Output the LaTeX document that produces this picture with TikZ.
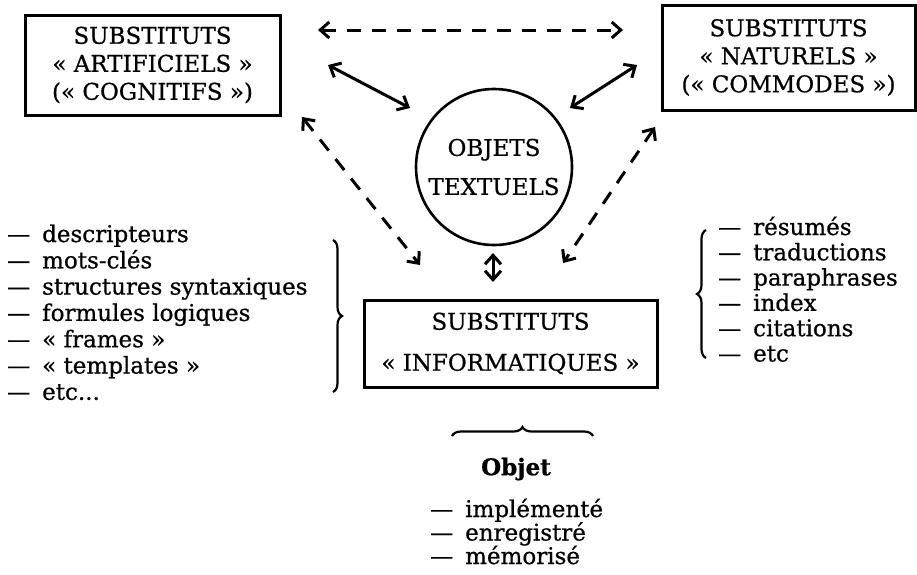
\documentclass[tikz,border=0pt]{standalone}
\usepackage{fontspec}
\setmainfont{DejaVu Serif}[UprightFeatures={FakeBold=0.7}, BoldFeatures={FakeBold=0.7}]
\usetikzlibrary{arrows.meta,decorations.pathreplacing}

\newcommand{\tiret}{---\hspace{12pt}}

\begin{document}
\begin{tikzpicture}[
    x=1pt, y=-1pt,
    subst/.style={rectangle, draw, line width=3pt, align=center, inner sep=0pt, font=\fontsize{23}{28}\selectfont},
    liste/.style={anchor=west, inner sep=0pt, text height=17pt, text depth=5pt, font=\fontsize{23}{27}\selectfont},
    twoway/.style={{Straight Barb[length=9pt,width=16pt]}-{Straight Barb[length=9pt,width=16pt]}, line width=3pt},
    dashway/.style={twoway, dash pattern=on 14pt off 11pt},
    accolade/.style={decorate, decoration={brace, amplitude=9pt}, line width=2.2pt}
]

\useasboundingbox (0,0) rectangle (917,574);

% Substituts
\node[subst, minimum width=255pt, minimum height=100pt] (artif) at (152.5,65) {SUBSTITUTS\\« ARTIFICIELS »\\(« COGNITIFS »)};
\node[subst, minimum width=253pt, minimum height=105pt] (natur) at (788.5,57.5) {SUBSTITUTS\\« NATURELS »\\(« COMMODES »)};
\node[subst, minimum width=293pt, minimum height=87pt, font=\fontsize{23}{41}\selectfont] (infor) at (510.5,343.5) {SUBSTITUTS\\« INFORMATIQUES »};

% Objets textuels
\node[circle, draw, line width=2.6pt, minimum size=156pt, inner sep=0pt, align=center, font=\fontsize{23}{39}\selectfont] (objets) at (494,167) {OBJETS\\TEXTUELS};

% Arrow ends
\coordinate (hautG) at (318,30);
\coordinate (hautD) at (623,30);
\coordinate (artA) at (328,65);
\coordinate (objA) at (410,108);
\coordinate (objN) at (570,108);
\coordinate (natA) at (637,65);
\coordinate (artB) at (302,117);
\coordinate (infG) at (420,265);
\coordinate (natB) at (655,127);
\coordinate (infD) at (563,263);
\coordinate (objB) at (493,253);
\coordinate (infH) at (493,282);

% Arrows
\draw[dashway] (hautG) -- (hautD);
\draw[twoway] (artA) -- (objA);
\draw[twoway] (objN) -- (natA);
\draw[dashway] (artB) -- (infG);
\draw[dashway] (natB) -- (infD);
\draw[twoway] (objB) -- (infH);

% Lists
\foreach \txt [count=\i] in {descripteurs, mots-clés, structures\ syntaxiques, formules\ logiques, « frames », « templates », etc.{}.{}.}
  \node[liste] (gauche\i) at (7,{236+26.3*(\i-1)}) {\tiret\txt};
\foreach \txt [count=\i] in {résumés, traductions, paraphrases, index, citations, etc}
  \node[liste] (droite\i) at (718,{229+25.3*(\i-1)}) {\tiret\txt};
\foreach \txt [count=\i] in {implémenté, enregistré, mémorisé}
  \node[liste] (objet\i) at (430,{511+23.5*(\i-1)}) {\tiret\txt};

\node[font=\fontsize{23}{27}\selectfont\bfseries] (objet) at (516,469) {Objet};

% Braces
\draw[accolade] (333,240) -- (333,392);
\draw[accolade] (706,358) -- (706,230);
\draw[accolade] (452,436) -- (593,436);

\end{tikzpicture}
\end{document}
